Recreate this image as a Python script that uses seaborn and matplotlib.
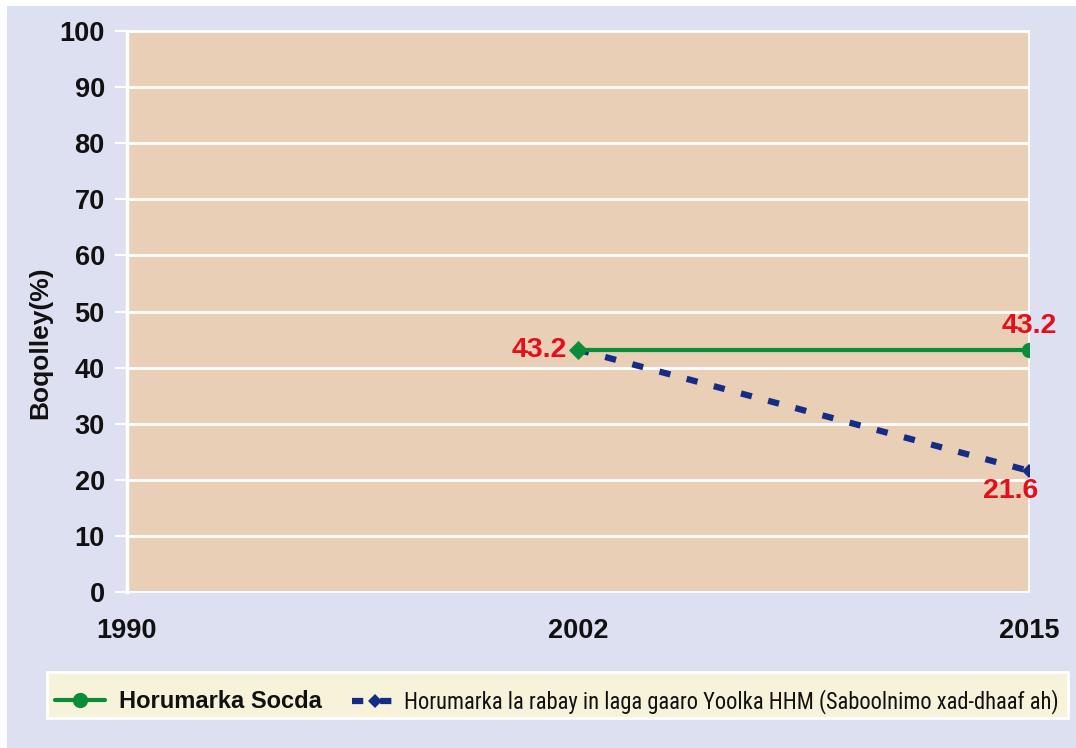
import matplotlib
matplotlib.use("Agg")
import matplotlib.pyplot as plt
import matplotlib.patches as patches
from matplotlib import font_manager
import os
import pandas as pd
import seaborn as sns

# data
years = ["1990", "2002", "2015"]
socdaYears = ["2002", "2015"]
socdaValues = [43.2, 43.2]
rabayYears = ["2002", "2015"]
rabayValues = [43.2, 21.6]
yTicks = list(range(0, 101, 10))
labelSocda = "Horumarka Socda"
labelRabay = "Horumarka la rabay in laga gaaro Yoolka HHM (Saboolnimo xad-dhaaf ah)"

GREEN = "#0b8c3a"
BLUE = "#142c86"
RED = "#e3101c"
PANEL = "#e8cfb5"
BACK = "#dde0f1"
LEGBG = "#f7f3da"


def findFont(fileNames, fallback, size):
    prop = None
    paths = font_manager.findSystemFonts()
    for name in fileNames:
        for path in paths:
            if os.path.basename(path).lower() == name.lower():
                prop = font_manager.FontProperties(fname=path)
                break
        if prop is not None:
            break
    if prop is None:
        prop = font_manager.FontProperties(family=fallback[0], weight=fallback[1])
    prop.set_size(size)
    return prop


sns.set_theme(style="white")
plt.rcParams["font.family"] = ["Liberation Sans", "DejaVu Sans"]

boldFiles = ["LiberationSans-Bold.ttf"]
narrowFiles = ["LiberationSansNarrow-Regular.ttf", "RobotoCondensed-Regular.ttf",
               "OpenSans_Condensed-Regular.ttf", "Roboto-Regular.ttf", "LiberationSans-Regular.ttf"]
tickFont = findFont(boldFiles, ("DejaVu Sans", "bold"), 19.5)
yLabelFont = findFont(boldFiles, ("DejaVu Sans", "bold"), 19)
valueFont = findFont(boldFiles, ("DejaVu Sans", "bold"), 20.5)
legBoldFont = findFont(boldFiles, ("DejaVu Sans", "bold"), 17)
legNarrowFont = findFont(narrowFiles, ("DejaVu Sans", "normal"), 15)

fig = plt.figure(figsize=(10.76, 7.48), dpi=100, facecolor="white")
fig.patches.append(patches.Rectangle((7 / 1076, 0), 1, 1 - 6 / 748, transform=fig.transFigure,
                                     facecolor=BACK, edgecolor="none", zorder=-10))
# legend box
fig.patches.append(patches.Rectangle((47 / 1076, 1 - 718 / 748), 1021 / 1076, 46 / 748,
                                     transform=fig.transFigure, facecolor=LEGBG, edgecolor="white",
                                     linewidth=2, zorder=-5))
ax = fig.add_axes([127 / 1076, 1 - 592 / 748, (1029 - 127) / 1076, (592 - 31) / 748])
ax.set_facecolor(PANEL)

pos = {y: i for i, y in enumerate(years)}
socda = pd.DataFrame({"x": [pos[y] for y in socdaYears], "v": socdaValues})
rabay = pd.DataFrame({"x": [pos[y] for y in rabayYears], "v": rabayValues})

sns.lineplot(data=rabay, x="x", y="v", ax=ax, color=BLUE, linewidth=4.5, linestyle=(0, (1.8, 2.7)),
             dash_capstyle="butt", marker="D", markersize=7.5, markeredgewidth=0, label=labelRabay, zorder=3)
sns.lineplot(data=socda, x="x", y="v", ax=ax, color=GREEN, linewidth=3.0,
             marker="o", markersize=11, markeredgewidth=0, markevery=[1], label=labelSocda, zorder=4)
# first point drawn as green diamond in the original
sns.scatterplot(x=socda["x"][:1], y=socda["v"][:1], ax=ax, color=GREEN, marker="D", s=95,
                linewidth=0, zorder=5, legend=False)

ax.set_xlim(0, 2)
ax.set_ylim(0, 100)
ax.set_yticks(yTicks)
ax.set_xticks(range(len(years)))
ax.set_xticklabels(years)
ax.yaxis.grid(True, color="white", linewidth=2)
ax.xaxis.grid(False)
for s in ax.spines.values():
    s.set_color("white")
    s.set_linewidth(1.2)
ax.spines["left"].set_linewidth(2.5)
ax.tick_params(axis="y", length=9, width=1.5, color="white", left=True, pad=7)
ax.tick_params(axis="x", length=0, pad=19)
for t in ax.get_yticklabels() + ax.get_xticklabels():
    t.set_fontproperties(tickFont)
    t.set_color("#111111")
ax.set_xlabel("")
ax.set_ylabel("Boqolley(%)", fontproperties=yLabelFont, color="#111111")
ax.yaxis.set_label_coords((52 - 127) / 902, (592 - 343) / 561)

# value labels
labelKw = dict(textcoords="offset points", color=RED, fontproperties=valueFont, annotation_clip=False)
ax.annotate(f"{socdaValues[0]}", (socda["x"][0], socdaValues[0]), xytext=(-8, 0),
            ha="right", va="center", **labelKw)
ax.annotate(f"{socdaValues[1]}", (socda["x"][1], socdaValues[1]), xytext=(0, 8),
            ha="center", va="bottom", **labelKw)
ax.annotate(f"{rabayValues[1]}", (rabay["x"][1], rabayValues[1]), xytext=(-13, -5),
            ha="center", va="top", **labelKw)

handles, labels = ax.get_legend_handles_labels()
if ax.get_legend():
    ax.get_legend().remove()

# size the long label so it spans the width it has in the original (narrow font there)
renderer = fig.canvas.get_renderer()
probe = fig.text(0, 0, labelRabay, fontproperties=legNarrowFont)
probeWidth = probe.get_window_extent(renderer).width
probe.remove()
legNarrowFont.set_size(min(17, 15 * 658 / probeWidth))

legKw = dict(loc="center left", frameon=False, borderaxespad=0, borderpad=0)
leg1 = fig.legend([handles[labels.index(labelSocda)]], [labelSocda], prop=legBoldFont,
                  bbox_to_anchor=(55 / 1076, 1 - 702 / 748), handlelength=2.1, handletextpad=0.6, **legKw)
leg2 = fig.legend([handles[labels.index(labelRabay)]], [labelRabay], prop=legNarrowFont,
                  bbox_to_anchor=(352 / 1076, 1 - 702 / 748), handlelength=2.0, handletextpad=0.3, **legKw)
for lg in (leg1, leg2):
    for t in lg.get_texts():
        t.set_color("#111111")

fig.savefig("out.png", dpi=100, facecolor=fig.get_facecolor())
